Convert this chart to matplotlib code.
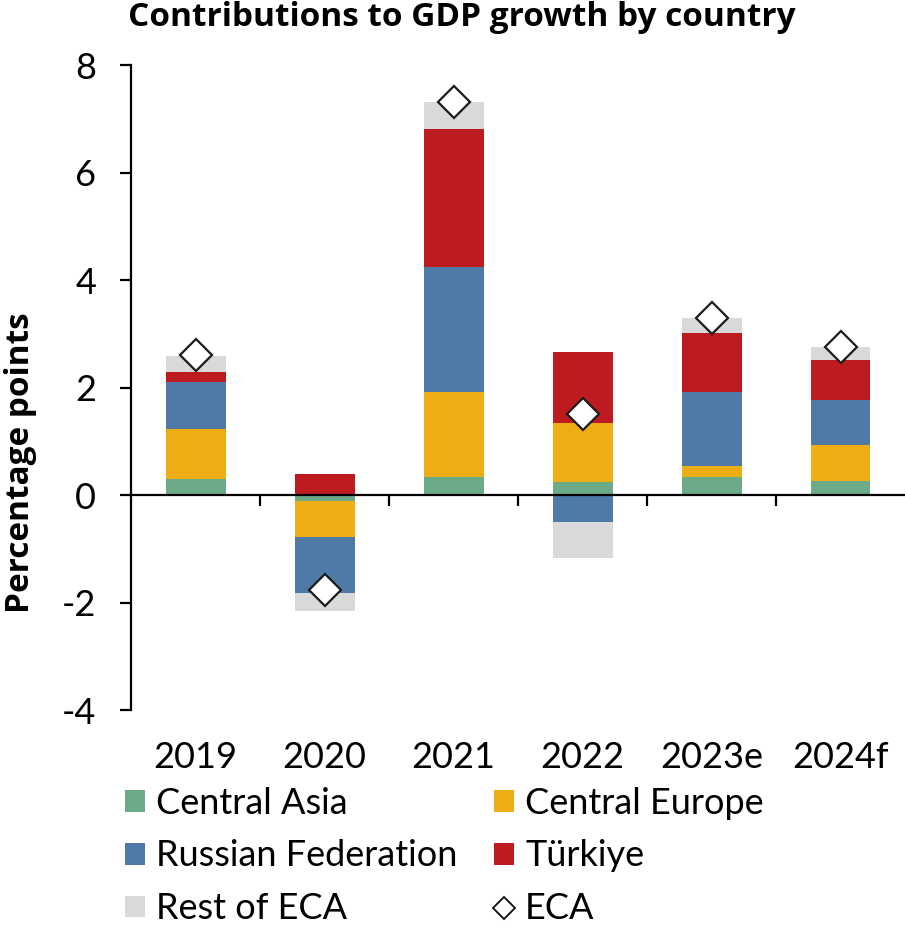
import matplotlib
matplotlib.use("Agg")
import matplotlib.pyplot as plt
from matplotlib.patches import Patch
from matplotlib.lines import Line2D
import numpy as np

plt.rcParams['font.family'] = ['Lato', 'DejaVu Sans']

years = ["2019", "2020", "2021", "2022", "2023e", "2024f"]
series_names = ["Central Asia", "Central Europe", "Russian Federation", "Türkiye", "Rest of ECA"]
central_asia = [0.30, -0.11, 0.34, 0.25, 0.33, 0.26]
central_europe = [0.93, -0.66, 1.58, 1.10, 0.22, 0.68]
russian_federation = [0.88, -1.05, 2.32, -0.49, 1.37, 0.84]
turkiye = [0.19, 0.39, 2.58, 1.32, 1.09, 0.74]
rest_of_eca = [0.29, -0.33, 0.50, -0.67, 0.29, 0.24]
eca_total = [2.60, -1.76, 7.32, 1.51, 3.30, 2.76]

colors = ["#6DAA88", "#EEAD14", "#4F79A6", "#BE1B21", "#D9D9D9"]
bold_font = ['Open Sans', 'DejaVu Sans']

fig = plt.figure(figsize=(9.05, 9.32), dpi=100)
ax = fig.add_axes([0.1448, 0.238, 0.8552, 0.692])

x = np.arange(len(years))
width = 0.465
pos_base = np.zeros(len(years))
neg_base = np.zeros(len(years))
for vals, col in zip([central_asia, central_europe, russian_federation, turkiye, rest_of_eca], colors):
    v = np.array(vals)
    bottoms = np.where(v >= 0, pos_base, neg_base)
    ax.bar(x, v, width=width, bottom=bottoms, color=col, edgecolor='none', zorder=2)
    pos_base = pos_base + np.where(v >= 0, v, 0)
    neg_base = neg_base + np.where(v < 0, v, 0)

ax.plot(x, eca_total, linestyle='none', marker='D', markersize=16,
        markerfacecolor='white', markeredgecolor='#1a1a1a', markeredgewidth=1.6, zorder=3)

ax.set_xlim(-0.5, len(years) - 0.5)
ax.set_ylim(-4, 8)
ax.set_yticks([-4, -2, 0, 2, 4, 6, 8])
ax.set_yticklabels(["-4", "-2", "0", "2", "4", "6", "8"])

for s in ["top", "right"]:
    ax.spines[s].set_visible(False)
ax.spines['left'].set_linewidth(1.6)
ax.spines['bottom'].set_position(('data', 0))
ax.spines['bottom'].set_linewidth(1.6)
ax.spines['bottom'].set_zorder(4)

ax.set_xticks([])
ax.set_xticks(np.arange(len(years) - 1) + 0.5, minor=True)
ax.tick_params(axis='x', which='minor', direction='out', length=8, width=1.6)
ax.tick_params(axis='y', direction='out', length=8, width=1.6, labelsize=26, pad=17)

# category labels below the plotting area
sec = ax.secondary_xaxis('bottom')
sec.set_xticks(x)
sec.set_xticklabels(years)
sec.tick_params(length=0, labelsize=26, pad=22)
sec.spines['bottom'].set_visible(False)

ax.set_ylabel("Percentage points", fontsize=24, fontweight='bold', family=bold_font,
              va='center')
ax.yaxis.set_label_coords(-0.143, 0.383)
fig.text(0.51, 0.981, "Contributions to GDP growth by country", ha='center', va='center',
         fontsize=24, fontweight='bold', family=bold_font)

handles = [Patch(facecolor=c, edgecolor='none') for c in colors]
eca_handle = Line2D([], [], linestyle='none', marker='D', markersize=11,
                    markerfacecolor='white', markeredgecolor='#1a1a1a', markeredgewidth=1.4)
order_h = [handles[0], handles[2], handles[4], handles[1], handles[3], eca_handle]
order_l = [series_names[0], series_names[2], series_names[4], series_names[1], series_names[3], "ECA"]
fig.legend(order_h, order_l, ncol=2, loc='upper left', bbox_to_anchor=(0.138, 0.156),
           frameon=False, fontsize=26, handlelength=0.55, handleheight=0.55,
           handletextpad=0.32, columnspacing=1.0, labelspacing=0.55, borderaxespad=0,
           borderpad=0, bbox_transform=fig.transFigure)

fig.savefig("out.png", dpi=100)
